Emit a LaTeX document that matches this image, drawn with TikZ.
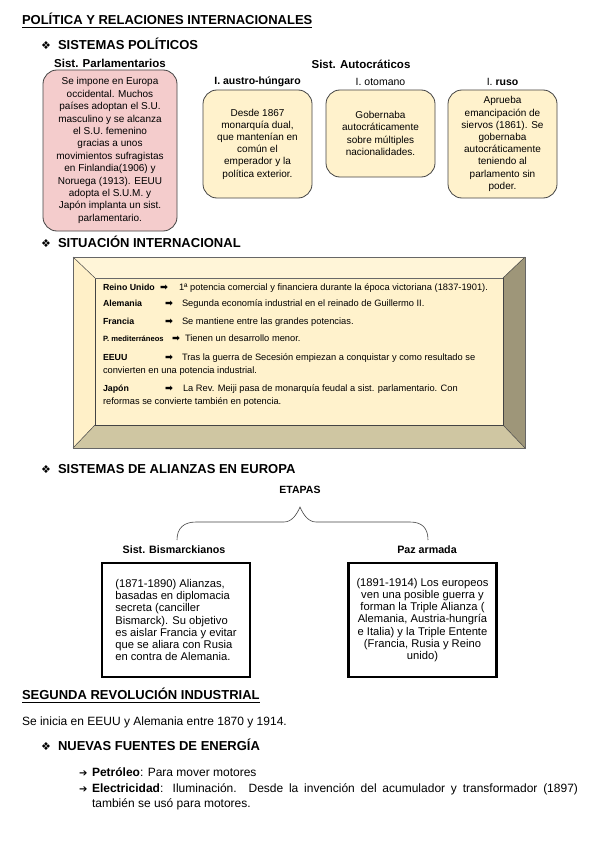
\documentclass[tikz,border=0pt]{standalone}
\usepackage{fontspec}
\setmainfont{Liberation Sans}
\newfontfamily\dejavu{DejaVu Sans}
\definecolor{pinkfill}{HTML}{F4CCCC}
\definecolor{yelfill}{HTML}{FFF2CC}
\definecolor{boxline}{HTML}{444444}
\definecolor{bevtop}{HTML}{FFF5D8}
\definecolor{bevleft}{HTML}{FFF0C8}
\definecolor{bevright}{HTML}{9E9679}
\definecolor{bevbot}{HTML}{CFC6A2}
\begin{document}
\begin{tikzpicture}[x=1pt,y=-1pt,
  every node/.style={inner sep=0pt,outer sep=0pt},
  titletext/.style={anchor=base west,font=\fontsize{13}{15}\selectfont\bfseries},
  bulletmark/.style={anchor=base west,font=\dejavu\fontsize{11}{12}\selectfont},
  sublabel/.style={font=\fontsize{11.5}{13}\selectfont\bfseries},
  boxlabel/.style={font=\fontsize{10.5}{12}\selectfont},
  roundbox/.style={draw=boxline,line width=0.8pt,rounded corners=14pt,align=center,
    font=\fontsize{10}{12.2}\selectfont},
  rowtext/.style={anchor=base west,font=\fontsize{9.3}{11}\selectfont},
  rowlabel/.style={anchor=base west,font=\fontsize{8.8}{10}\selectfont\bfseries},
  rowarrow/.style={anchor=base west,font=\dejavu\bfseries\fontsize{9.5}{10}\selectfont},
  alliancebox/.style={draw=black,line width=2.2pt,minimum width=148pt,minimum height=114pt,
    font=\fontsize{11.2}{12.3}\selectfont},
  bodytext/.style={anchor=base west,font=\fontsize{12}{14}\selectfont},
  bracepath/.style={draw=boxline,line width=0.6pt}
]
\useasboundingbox (0,0) rectangle (600,848);
\fill[white] (0,0) rectangle (600,848);

% ---------- Title ----------
\node[titletext] (t1) at (22,24.6) {POLÍTICA Y RELACIONES INTERNACIONALES};
\draw[line width=0.8pt] ([yshift=-3pt]t1.base west) -- ([yshift=-3pt]t1.base east);

% ---------- Sistemas politicos ----------
\node[bulletmark] (b1) at (41,49.6) {❖};
\node[titletext] (h1) at (58,49.6) {SISTEMAS POLÍTICOS};

\node[sublabel] (lparl) at (110,63) {Sist. Parlamentarios};
\node[sublabel] (lauto) at (361,64) {Sist. Autocráticos};

\node[roundbox,fill=pinkfill,minimum width=134pt,minimum height=161pt,
  font=\fontsize{10}{12.4}\selectfont] (parl) at (110,150.5)
  {Se impone en Europa\\occidental. Muchos\\países adoptan el S.U.\\masculino y se alcanza\\el S.U. femenino\\gracias a unos\\movimientos sufragistas\\en Finlandia(1906) y\\Noruega (1913). EEUU\\adopta el S.U.M. y\\Japón implanta un sist.\\parlamentario.};

\node[boxlabel,font=\fontsize{10.5}{12}\selectfont\bfseries] (laus) at (257.5,82) {I. austro-húngaro};
\node[boxlabel] (lotom) at (380.5,82) {I. otomano};
\node[boxlabel] (lruso) at (502.5,82) {I. \textbf{ruso}};

\node[roundbox,fill=yelfill,minimum width=109pt,minimum height=108pt] (aus) at (257.5,144)
  {Desde 1867\\monarquía dual,\\que mantenían en\\común el\\emperador y la\\política exterior.};
\node[roundbox,fill=yelfill,minimum width=109pt,minimum height=87pt] (otom) at (380.5,133.5)
  {Gobernaba\\autocráticamente\\sobre múltiples\\nacionalidades.};
\node[roundbox,fill=yelfill,minimum width=109pt,minimum height=108pt] (ruso) at (502.5,144)
  {Aprueba\\emancipación de\\siervos (1861). Se\\gobernaba\\autocráticamente\\teniendo al\\parlamento sin\\poder.};

% ---------- Situacion internacional ----------
\node[bulletmark] (b2) at (41,247.5) {❖};
\node[titletext] (h2) at (58,247.5) {SITUACIÓN INTERNACIONAL};

\fill[bevtop] (73,257) -- (525,257) -- (503,278) -- (95,278) -- cycle;
\fill[bevleft] (73,257) -- (95,278) -- (95,425) -- (73,448) -- cycle;
\fill[bevright] (525,257) -- (525,448) -- (503,425) -- (503,278) -- cycle;
\fill[bevbot] (73,448) -- (525,448) -- (503,425) -- (95,425) -- cycle;
\fill[yelfill] (95,278) rectangle (503,425);
\draw[boxline,line width=0.5pt] (73,257) -- (95,278) (525,257) -- (503,278)
  (73,448) -- (95,425) (525,448) -- (503,425);
\draw[boxline,line width=0.5pt] (95,278) -- (95,425) -- (503,425) -- (503,278);
\draw[boxline!80,line width=0.5pt] (95,278) -- (503,278);
\draw[black!60,line width=0.7pt] (73,257) rectangle (525,448);

\node[rowlabel] (r1l) at (103,290) {Reino Unido};
\node[rowarrow] (r1a) at (160,290) {➡};
\node[rowtext] (r1t) at (179,290) {1ª potencia comercial y financiera durante la época victoriana (1837-1901).};

\node[rowlabel] (r2l) at (103,306.5) {Alemania};
\node[rowarrow] (r2a) at (165,306.5) {➡};
\node[rowtext] (r2t) at (182,306.5) {Segunda economía industrial en el reinado de Guillermo II.};

\node[rowlabel] (r3l) at (103,324) {Francia};
\node[rowarrow] (r3a) at (165,324) {➡};
\node[rowtext] (r3t) at (182,324) {Se mantiene entre las grandes potencias.};

\node[rowlabel,font=\fontsize{7.6}{9}\selectfont\bfseries] (r4l) at (103,341) {P. mediterráneos};
\node[rowarrow] (r4a) at (172,341) {➡};
\node[rowtext] (r4t) at (185,341) {Tienen un desarrollo menor.};

\node[rowlabel] (r5l) at (103,360) {EEUU};
\node[rowarrow] (r5a) at (165,360) {➡};
\node[rowtext] (r5t) at (182,360) {Tras la guerra de Secesión empiezan a conquistar y como resultado se};
\node[rowtext] (r5c) at (103,373) {convierten en una potencia industrial.};

\node[rowlabel] (r6l) at (103,391) {Japón};
\node[rowarrow] (r6a) at (165,391) {➡};
\node[rowtext] (r6t) at (183,391) {La Rev. Meiji pasa de monarquía feudal a sist. parlamentario. Con};
\node[rowtext] (r6c) at (103,404) {reformas se convierte también en potencia.};

% ---------- Alianzas ----------
\node[bulletmark] (b3) at (41,473.5) {❖};
\node[titletext] (h3) at (58,473.5) {SISTEMAS DE ALIANZAS EN EUROPA};

\node[font=\fontsize{10.5}{12}\selectfont\bfseries] (etapas) at (300,490) {ETAPAS};
\coordinate (brl) at (177,540);
\coordinate (brtip) at (300,507);
\coordinate (brr) at (428,540);
\draw[bracepath] (brl) .. controls (177,528) and (184,522) .. (196,522) -- (284,522)
  .. controls (292,522) and (297,514) .. (brtip)
  .. controls (303,514) and (308,522) .. (316,522) -- (410,522)
  .. controls (422,522) and (428,528) .. (brr);

\node[font=\fontsize{10.7}{12}\selectfont\bfseries] (lbis) at (174,550) {Sist. Bismarckianos};
\node[font=\fontsize{10.7}{12}\selectfont\bfseries] (lpaz) at (427,550) {Paz armada};

\node[alliancebox,align=left] (bis) at (176,620)
  {(1871-1890) Alianzas,\\basadas en diplomacia\\secreta (canciller\\Bismarck). Su objetivo\\es aislar Francia y evitar\\que se aliara con Rusia\\en contra de Alemania.};
\node[alliancebox,align=center] (paz) at (422.5,620)
  {(1891-1914) Los europeos\\ven una posible guerra y\\forman la Triple Alianza (\\Alemania, Austria-hungría\\e Italia) y la Triple Entente\\(Francia, Rusia y Reino\\unido)};

% ---------- Segunda revolucion industrial ----------
\node[titletext] (t2) at (22,699.5) {SEGUNDA REVOLUCIÓN INDUSTRIAL};
\draw[line width=0.8pt] ([yshift=-3pt]t2.base west) -- ([yshift=-3pt]t2.base east);

\node[bodytext] (intro) at (22,725) {Se inicia en EEUU y Alemania entre 1870 y 1914.};

\node[bulletmark] (b4) at (41,750.5) {❖};
\node[titletext] (h4) at (58,750.5) {NUEVAS FUENTES DE ENERGÍA};

\node[anchor=base west,font=\dejavu\fontsize{10}{12}\selectfont] (a1) at (79,776) {➔};
\node[bodytext] (pet) at (92,776) {\textbf{Petróleo}: Para mover motores};
\node[anchor=base west,font=\dejavu\fontsize{10}{12}\selectfont] (a2) at (79,792) {➔};
\node[bodytext] (ele) at (92,792) {\makebox[486pt][s]{\textbf{Electricidad}: Iluminación. Desde la invención del acumulador y transformador (1897)}};
\node[bodytext] (ele2) at (92,807) {también se usó para motores.};
\end{tikzpicture}
\end{document}
